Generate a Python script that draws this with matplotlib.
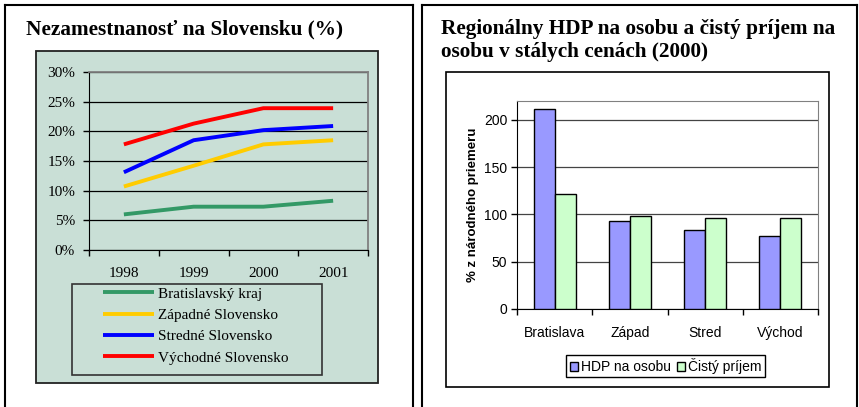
import matplotlib
matplotlib.use("Agg")
import matplotlib.pyplot as plt
import numpy as np
from matplotlib.patches import Rectangle, Patch
from matplotlib.lines import Line2D

# ---------------- data ----------------
years = ["1998", "1999", "2000", "2001"]
series_names = ["Bratislavský kraj", "Západné Slovensko", "Stredné Slovensko", "Východné Slovensko"]
bratislavsky = [6.0, 7.3, 7.3, 8.3]
zapadne = [10.7, 14.2, 17.8, 18.5]
stredne = [13.1, 18.5, 20.2, 20.9]
vychodne = [17.8, 21.3, 23.9, 23.9]
line_colors = ["#339966", "#FFCC00", "#0000FF", "#FF0000"]
y_ticks_left = [0, 5, 10, 15, 20, 25, 30]

regions = ["Bratislava", "Západ", "Stred", "Východ"]
hdp = [211.5, 93.0, 84.0, 77.0]
prijem = [122.0, 98.0, 96.0, 96.0]
bar_names = ["HDP na osobu", "Čistý príjem"]
bar_colors = ["#9999FF", "#CCFFCC"]
y_ticks_right = [0, 50, 100, 150, 200]

W, H = 859, 407
fig = plt.figure(figsize=(W / 100, H / 100), dpi=100)
fig.patch.set_facecolor("white")

def fr(x0, y0, x1, y1):
    return [x0 / W, 1 - y1 / H, (x1 - x0) / W, (y1 - y0) / H]

def fx(x):
    return x / W

def fy(y):
    return 1 - y / H

SERIF = "Liberation Serif"
SANS = "Liberation Sans"
BG = "#C9DFD6"

# panel borders
for (x0, x1) in [(5, 413), (422, 857)]:
    fig.add_artist(Line2D([fx(x0), fx(x1)], [fy(5), fy(5)], color="black", lw=1.5, transform=fig.transFigure))
    fig.add_artist(Line2D([fx(x0), fx(x0)], [fy(5), fy(407)], color="black", lw=1.5, transform=fig.transFigure))
    fig.add_artist(Line2D([fx(x1), fx(x1)], [fy(5), fy(407)], color="black", lw=1.5, transform=fig.transFigure))

# ---------------- left panel ----------------
fig.text(fx(26), fy(29), "Nezamestnanosť na Slovensku (%)", ha="left", va="center",
         fontfamily=SERIF, fontweight="bold", fontsize=15.3)

r = fr(36, 51, 378, 383)
fig.add_artist(Rectangle((r[0], r[1]), r[2], r[3], transform=fig.transFigure,
                         facecolor=BG, edgecolor="#222222", lw=1.3, zorder=0))

axL = fig.add_axes(fr(89, 72, 368, 250))
axL.set_facecolor(BG)
x = np.arange(len(years))
all_series = [bratislavsky, zapadne, stredne, vychodne]
for vals, c, n in zip(all_series, line_colors, series_names):
    axL.plot(x, vals, color=c, lw=2.8, label=n, solid_capstyle="butt", zorder=3)
axL.set_xlim(-0.5, len(years) - 0.5)
axL.set_ylim(0, 30)
axL.set_yticks(y_ticks_left)
axL.set_yticklabels([f"{v}%" for v in y_ticks_left], fontfamily=SERIF, fontsize=11)
axL.yaxis.grid(True, color="black", lw=0.9)
axL.set_axisbelow(True)
axL.set_xticks(x)
axL.set_xticklabels(years, fontfamily=SERIF, fontsize=11)
axL.set_xticks(np.arange(-0.5, len(years)), minor=True)
axL.tick_params(axis="x", which="major", length=0, pad=12)
axL.tick_params(axis="x", which="minor", length=4, direction="out", width=1)
axL.tick_params(axis="y", length=4, direction="out", width=1, pad=6)
axL.spines["top"].set_color("#808080")
axL.spines["right"].set_color("#808080")
axL.spines["top"].set_linewidth(1.3)
axL.spines["right"].set_linewidth(1.3)
axL.spines["left"].set_color("black")
axL.spines["bottom"].set_color("black")

r = fr(72, 284, 322, 375)
fig.add_artist(Rectangle((r[0], r[1]), r[2], r[3], transform=fig.transFigure,
                         facecolor=BG, edgecolor="#333333", lw=1.2, zorder=1))
legL = fig.legend(handles=axL.get_lines(), loc="upper left",
                  bbox_to_anchor=(fx(103), fy(287)), bbox_transform=fig.transFigure,
                  frameon=False, borderpad=0, borderaxespad=0, handlelength=3.35,
                  handletextpad=0.25, labelspacing=0.5,
                  prop={"family": SERIF, "size": 11})
legL.set_zorder(2)

# ---------------- right panel ----------------
fig.text(fx(441), fy(29), "Regionálny HDP na osobu a čistý príjem na", ha="left", va="center",
         fontfamily=SERIF, fontweight="bold", fontsize=15.3)
fig.text(fx(441), fy(52), "osobu v stálych cenách (2000)", ha="left", va="center",
         fontfamily=SERIF, fontweight="bold", fontsize=15.3)

r = fr(446, 72, 829, 387)
fig.add_artist(Rectangle((r[0], r[1]), r[2], r[3], transform=fig.transFigure,
                         facecolor="white", edgecolor="black", lw=1.2, zorder=0))

axR = fig.add_axes(fr(517, 101, 818, 309))
axR.set_facecolor("white")
xr = np.arange(len(regions))
bw = 0.28
axR.bar(xr - bw / 2, hdp, width=bw, color=bar_colors[0], edgecolor="black", lw=1, label=bar_names[0], zorder=3)
axR.bar(xr + bw / 2, prijem, width=bw, color=bar_colors[1], edgecolor="black", lw=1, label=bar_names[1], zorder=3)
axR.set_xlim(-0.5, len(regions) - 0.5)
axR.set_ylim(0, 220)
axR.set_yticks(y_ticks_right)
axR.set_yticklabels([str(v) for v in y_ticks_right], fontfamily=SANS, fontsize=10)
axR.yaxis.grid(True, color="#444444", lw=0.9)
axR.set_axisbelow(True)
axR.set_xticks(xr)
axR.set_xticklabels(regions, fontfamily=SANS, fontsize=10)
axR.set_xticks(np.arange(-0.5, len(regions)), minor=True)
axR.tick_params(axis="x", which="major", length=0, pad=12)
axR.tick_params(axis="x", which="minor", length=4, direction="out", width=1)
axR.tick_params(axis="y", length=4, direction="out", width=1, pad=3)
axR.spines["top"].set_color("#808080")
axR.spines["right"].set_color("#808080")
axR.set_ylabel("% z národného priemeru", fontfamily=SANS, fontweight="bold", fontsize=9.5, labelpad=3.5)

legR = fig.legend(handles=[Patch(facecolor=bar_colors[0], edgecolor="black", label=bar_names[0]),
                           Patch(facecolor=bar_colors[1], edgecolor="black", label=bar_names[1])],
                  loc="center", bbox_to_anchor=(fx(665.5), fy(366)), bbox_transform=fig.transFigure,
                  ncol=2, frameon=True, fancybox=False, edgecolor="black", framealpha=1,
                  borderpad=0.25, handlelength=0.6, handleheight=0.6, handletextpad=0.2,
                  columnspacing=0.4, borderaxespad=0,
                  prop={"family": SANS, "size": 10})
legR.get_frame().set_linewidth(1.0)

fig.savefig("out.png", dpi=100)
